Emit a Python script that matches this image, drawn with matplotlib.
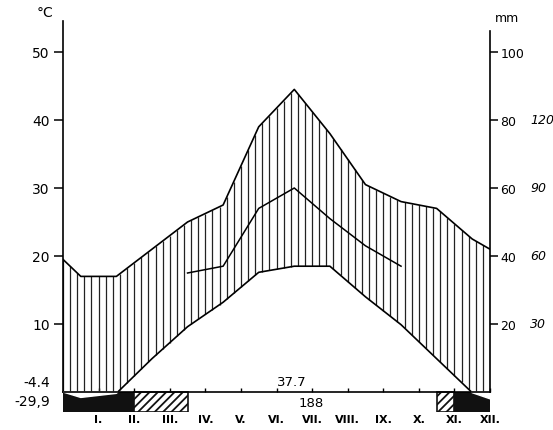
import numpy as np
import matplotlib.pyplot as plt

plt.rcParams['hatch.linewidth'] = 1.3

# month labels (roman numerals) and their tick positions
months = ['I.', 'II.', 'III.', 'IV.', 'V.', 'VI.', 'VII.', 'VIII.', 'IX.', 'X.', 'XI.', 'XII.']
month_pos = np.arange(1, 13)
mid = np.arange(0.5, 12, 1.0)   # values are plotted mid-month

# mean monthly temperature, deg C  (+ values at the left / right edge)
temp = [-0.8, -0.2, 4.9, 9.6, 13.2, 17.6, 18.5, 18.5, 14.0, 9.9, 4.9, -0.1]
temp_edges = [0.0, -1.0]

# monthly precipitation, mm (+ edge values)
precip = [34, 34, 42, 50, 55, 78, 89, 76, 61, 56, 54, 45]
precip_edges = [39, 42]

# second (partial) curve, April - October, mm
precip2 = [35, 37, 54, 60, 51, 43, 37]
precip2_pos = mid[3:10]

# frost bars under the baseline (start, end) in months
frost_black = [(0, 2), (11, 12)]
frost_hatched = [(2, 3.5), (10.5, 11)]

x_full = np.concatenate([[0], mid, [12]])
t_full = np.concatenate([[temp_edges[0]], temp, [temp_edges[1]]])
p_full = np.concatenate([[precip_edges[0]], precip, [precip_edges[1]]]) / 2.0

fig = plt.figure(figsize=(5.53, 4.31), dpi=100)
ax = fig.add_axes([63 / 553, (431 - 413.4) / 431, 427 / 553, 394.4 / 431])
ax.set_xlim(0, 12)
ax.set_ylim(-3, 55)

# vertical hatching of the humid period
xs = np.arange(0, 12.001, 0.2)
lo = np.maximum(np.interp(xs, x_full, t_full), 0)
hi = np.interp(xs, x_full, p_full)
ax.vlines(xs, lo, hi, color='#222222', lw=0.9)

ax.plot(x_full, p_full, color='k', lw=1.2)
ax.plot(x_full, t_full, color='k', lw=1.2)
ax.plot(precip2_pos, np.array(precip2) / 2.0, color='k', lw=1.1)

# bars
for a, b in frost_black:
    ax.bar(a, -2.9, width=b - a, bottom=0, align='edge', color='#111111', zorder=3)
for a, b in frost_hatched:
    ax.bar(a, -2.9, width=b - a, bottom=0, align='edge', facecolor='white',
           edgecolor='#111111', hatch='////', lw=1.2, zorder=3)

# temperature below zero shown white inside the black bar
xf = np.linspace(0, 12, 600)
tf = np.interp(xf, x_full, t_full)
ax.fill_between(xf, tf, 0, where=tf < 0, interpolate=True, color='white', zorder=4)

# axes
ax.spines['top'].set_visible(False)
ax.spines['right'].set_visible(False)
ax.spines['bottom'].set_position(('data', 0))
ax.spines['bottom'].set_zorder(5)
ax.spines['left'].set_bounds(0, 54.6)
for s in ax.spines.values():
    s.set_linewidth(1.2)

ax.set_yticks([10, 20, 30, 40, 50])
ax.tick_params(axis='y', direction='out', length=6.5, width=1.1, pad=3, labelsize=10)
ax.set_xticks(month_pos, months, fontweight='bold')
ax.tick_params(axis='x', direction='in', length=3, width=1, pad=15.5, labelsize=8)

ax2 = ax.twinx()
ax2.set_ylim(-6, 110)
for k in ['top', 'left', 'bottom']:
    ax2.spines[k].set_visible(False)
ax2.spines['right'].set_bounds(0, 106.2)
ax2.spines['right'].set_linewidth(1.2)
ax2.set_yticks([20, 40, 60, 80, 100])
ax2.tick_params(axis='y', direction='out', length=5.5, width=1.1, pad=2, labelsize=9)

# second scale on the right
for t, lab in zip([10, 20, 30, 40], ['30', '60', '90', '120']):
    ax.text(13.13, t, lab, fontsize=9, ha='left', va='center', style='italic')

ax.text(-0.5, 55.9, '°C', fontsize=10, ha='center', va='center')
ax.text(12.48, 55.1, 'mm', fontsize=9, ha='center', va='center')
ax.text(-0.37, 1.5, '-4.4', fontsize=10, ha='right', va='center')
ax.text(-0.37, -1.3, '-29,9', fontsize=10, ha='right', va='center')
ax.text(6.44, 1.6, '37.7', fontsize=9.5, ha='center', va='center')
ax.text(6.97, -1.5, '188', fontsize=9.5, ha='center', va='center')

fig.savefig('out.png', dpi=100)
